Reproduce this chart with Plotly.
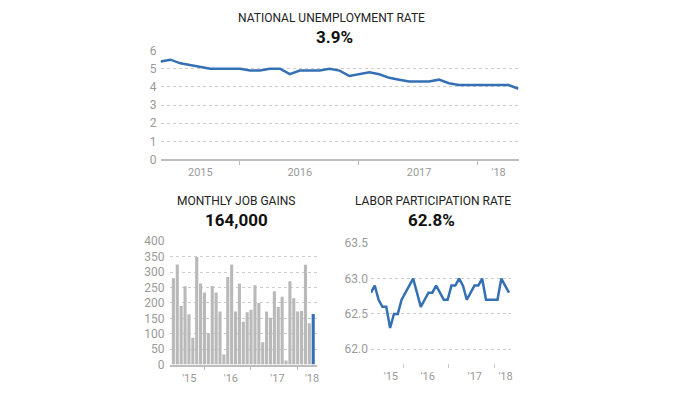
import plotly.graph_objects as go
import pandas as pd

# Months covered (April 2015 – April 2018)
months = [d.strftime("%b %Y") for d in pd.date_range("2015-04-01", "2018-04-01", freq="MS")]

unemployment = [5.4, 5.5, 5.3, 5.2, 5.1, 5.0, 5.0, 5.0, 5.0, 4.9, 4.9, 5.0, 5.0,
                4.7, 4.9, 4.9, 4.9, 5.0, 4.9, 4.6, 4.7, 4.8, 4.7, 4.5, 4.4, 4.3,
                4.3, 4.3, 4.4, 4.2, 4.1, 4.1, 4.1, 4.1, 4.1, 4.1, 3.9]

job_gains = [280, 325, 190, 254, 163, 87, 349, 263, 234, 102, 255, 234, 172,
             33, 284, 325, 172, 263, 139, 170, 178, 257, 200, 72, 172, 152,
             238, 187, 220, 13, 270, 215, 172, 174, 324, 134, 164]

participation = [62.8, 62.9, 62.7, 62.6, 62.6, 62.3, 62.5, 62.5, 62.7, 62.8, 62.9,
                 63.0, 62.8, 62.6, 62.7, 62.8, 62.8, 62.9, 62.8, 62.7, 62.7, 62.9,
                 62.9, 63.0, 62.9, 62.7, 62.8, 62.9, 62.9, 63.0, 62.7, 62.7, 62.7,
                 62.7, 63.0, 62.9, 62.8]

top_tick_labels = ["2015", "2016", "2017", "'18"]
short_tick_labels = ["'15", "'16", "'17", "'18"]

titles = ["NATIONAL UNEMPLOYMENT RATE", "MONTHLY JOB GAINS", "LABOR PARTICIPATION RATE"]
headlines = ["3.9%", "164,000", "62.8%"]

x = list(range(len(months)))

OFF = 8  # page body margin
W, H = 700 - 2 * OFF, 394 - 2 * OFF
def px(v):
    return (v - OFF) / W
def py(v):
    return 1 - (v - OFF) / H

BLUE = "#3470b3"
GRAY_BAR = "#b9b9b9"
GRID = "#cccccc"
TICKTXT = "#9a9a9a"
FONT = "Roboto"

bar_colors = [GRAY_BAR] * (len(job_gains) - 1) + [BLUE]

fig = go.Figure()
fig.add_trace(go.Scatter(x=x, y=unemployment, mode="lines", line=dict(color=BLUE, width=2.5),
                         customdata=months, hovertemplate="%{customdata}: %{y}%<extra></extra>",
                         xaxis="x", yaxis="y"))
fig.add_trace(go.Bar(x=x, y=job_gains, marker=dict(color=bar_colors, line=dict(width=0)),
                     customdata=months, hovertemplate="%{customdata}: %{y}k<extra></extra>",
                     xaxis="x2", yaxis="y2"))
fig.add_trace(go.Scatter(x=x, y=participation, mode="lines", line=dict(color=BLUE, width=2.5),
                         customdata=months, hovertemplate="%{customdata}: %{y}%<extra></extra>",
                         xaxis="x3", yaxis="y3"))

tickfont = dict(family=FONT, size=12, color=TICKTXT)
xtickfont = dict(family=FONT, size=11, color=TICKTXT)

common_y = dict(showgrid=True, gridcolor=GRID, griddash="dot", gridwidth=1,
                zeroline=False, showline=False, ticks="", tickfont=tickfont, fixedrange=True)

fig.update_layout(
    width=W, height=H,
    margin=dict(l=0, r=0, t=0, b=0),
    paper_bgcolor="white", plot_bgcolor="white",
    showlegend=False,
    bargap=0.2,
    # Top: unemployment
    xaxis=dict(domain=[px(161), px(520)], range=[0, 36], showgrid=False, zeroline=False,
               showline=True, linecolor="#bdbdbd", linewidth=1.5,
               tickmode="array", tickvals=[4, 14, 26, 34], ticktext=top_tick_labels,
               ticks="", tickfont=xtickfont, ticklabelstandoff=2,
               minor=dict(tickmode="array", tickvals=[7.9, 19.9, 31.9], ticks="outside",
                          ticklen=4, tickcolor="#bdbdbd", tickwidth=1, showgrid=False),
               anchor="y", fixedrange=True),
    yaxis=dict(domain=[py(158), py(45)], range=[0, 6], tickvals=[0, 1, 2, 3, 4, 5, 6],
               anchor="x", ticklabelstandoff=3, **common_y),
    # Bottom-left: job gains
    xaxis2=dict(domain=[px(170), px(318)], range=[-1, 37], showgrid=False, zeroline=False,
                showline=True, linecolor="#bdbdbd", linewidth=1.5,
                tickmode="array", tickvals=[4.1, 14.8, 26.8, 35.7], ticktext=short_tick_labels,
                ticks="", tickfont=xtickfont, ticklabelstandoff=2,
                minor=dict(tickmode="array", tickvals=[7.9, 19.9, 31.9], ticks="outside",
                           ticklen=4, tickcolor="#bdbdbd", tickwidth=1, showgrid=False),
                anchor="y2", fixedrange=True),
    yaxis2=dict(domain=[py(371), py(243)], range=[0, 400], tickvals=[0, 50, 100, 150, 200, 250, 300, 350, 400],
                anchor="x2", ticklabelstandoff=4, **common_y),
    # Bottom-right: participation
    xaxis3=dict(domain=[px(372), px(512)], range=[0, 36.4], showgrid=False, zeroline=False,
                showline=False,
                tickmode="array", tickvals=[5.2, 14.8, 27.1, 35.1], ticktext=short_tick_labels,
                ticks="", tickfont=xtickfont, ticklabelstandoff=5,
                minor=dict(tickmode="array", tickvals=[8.6, 20.1, 32.1], ticks="outside",
                           ticklen=4, tickcolor="#c8c8c8", tickwidth=1, showgrid=False),
                anchor="y3", fixedrange=True),
    yaxis3=dict(domain=[py(369), py(245)], range=[61.81, 63.5], tickvals=[62.0, 62.5, 63.0, 63.5],
                tickformat=".1f", anchor="x3", ticklabelstandoff=2, **common_y),
)

title_pos = [(332, 11), (237, 201), (434, 201)]
head_pos = [(335, 31), (237, 221), (433, 221)]
for t, (cx, cy) in zip(titles, title_pos):
    fig.add_annotation(text=t, x=px(cx), y=py(cy), xref="paper", yref="paper",
                       showarrow=False, xanchor="center", yanchor="middle",
                       font=dict(family=FONT, size=12, color="#222222"))
for t, (cx, cy) in zip(headlines, head_pos):
    fig.add_annotation(text="<b>" + t + "</b>", x=px(cx), y=py(cy), xref="paper", yref="paper",
                       showarrow=False, xanchor="center", yanchor="middle",
                       font=dict(family=FONT, size=17, color="#111111"))

fig.write_html("out.html")
